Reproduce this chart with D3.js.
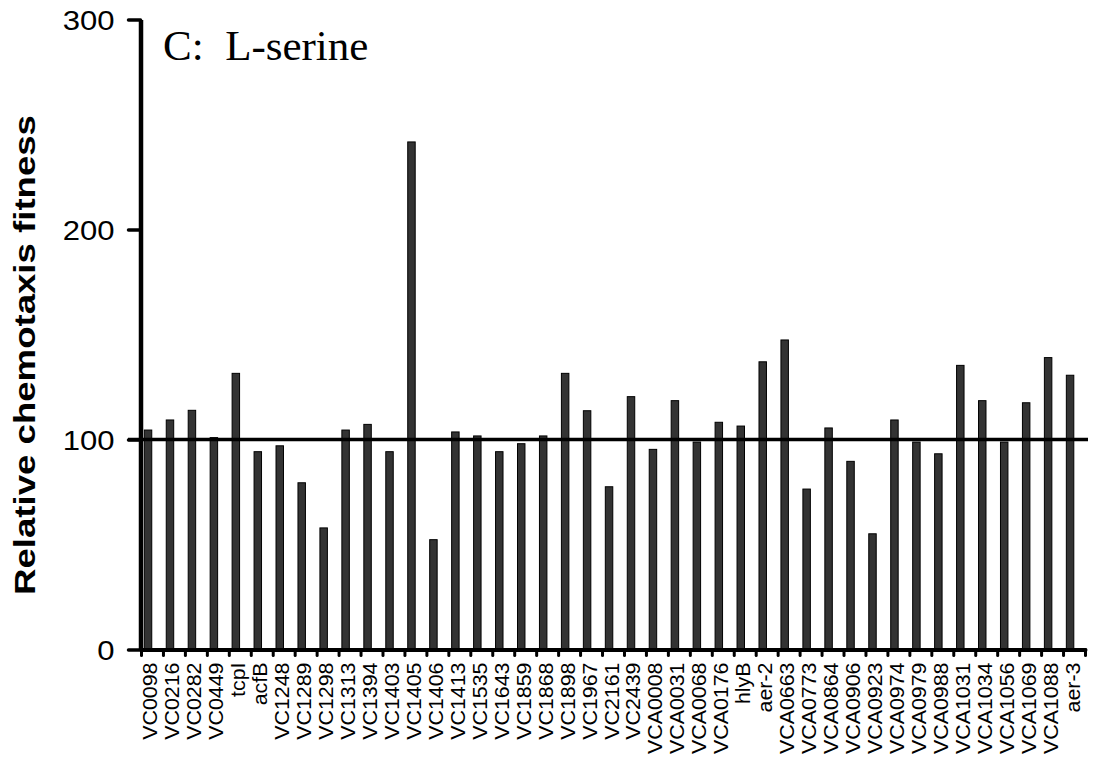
<!DOCTYPE html>
<html><head><meta charset="utf-8">
<script src="https://cdn.jsdelivr.net/npm/d3@7"></script>
<style>body{margin:0;background:#fff}svg{display:block}</style>
</head><body>
<svg id="chart" width="1095" height="761"></svg>
<script>
const categories = ["VC0098","VC0216","VC0282","VC0449","tcpI","acfB","VC1248","VC1289","VC1298","VC1313","VC1394","VC1403","VC1405","VC1406","VC1413","VC1535","VC1643","VC1859","VC1868","VC1898","VC1967","VC2161","VC2439","VCA0008","VCA0031","VCA0068","VCA0176","hlyB","aer-2","VCA0663","VCA0773","VCA0864","VCA0906","VCA0923","VCA0974","VCA0979","VCA0988","VCA1031","VCA1034","VCA1056","VCA1069","VCA1088","aer-3"];
const values = [104.5,109.3,113.9,100.9,131.5,94.2,97,79.4,57.9,104.5,107.2,94.2,241.7,52.3,103.6,101.7,94.2,98,101.7,131.5,113.7,77.5,120.4,95.3,118.5,98.8,108.2,106.4,137,147.4,76.4,105.5,89.6,55.1,109.3,98.8,93.2,135.3,118.5,98.8,117.5,139,130.6];
const yTicks = [0,100,200,300];
const referenceValue = 100;
const titleText = "C:\u00a0 L-serine";
const yTitle = "Relative chemotaxis fitness";

const svg = d3.select("#chart");
const x0 = 141, x1 = 1085, yTop = 19.5, yBot = 649.5;
const x = d3.scaleBand().domain(categories).range([x0, x1]).padding(0);
const xb = d3.scaleLinear().domain([0, categories.length]).range([x0, x1]);
const y = d3.scaleLinear().domain([0, 300]).range([yBot, yTop]);
const bw = x.bandwidth();

// bars
svg.append("g").selectAll("rect").data(categories).join("rect")
  .attr("x", d => x(d) + bw*0.15)
  .attr("width", bw*0.34)
  .attr("y", (d,i) => y(values[i]))
  .attr("height", (d,i) => y(0) - y(values[i]))
  .attr("fill", "#333")
  .attr("stroke", "#000")
  .attr("stroke-width", 1);

// reference line
svg.append("line")
  .attr("x1", 128).attr("x2", 1088)
  .attr("y1", y(referenceValue)).attr("y2", y(referenceValue))
  .attr("stroke", "#000").attr("stroke-width", 3.5);

// x axis tick marks at category boundaries
const gxt = svg.append("g").attr("transform", `translate(0,${yBot})`)
  .call(d3.axisBottom(xb).tickValues(d3.range(categories.length+1)).tickSize(6).tickSizeOuter(0).tickFormat(""));
gxt.select(".domain").attr("stroke-width", 4).attr("stroke-linecap","round");
gxt.selectAll(".tick line").attr("stroke-width", 3).attr("stroke-linecap","round");

// x axis labels
const gx = svg.append("g").attr("transform", `translate(0,${yBot})`)
  .call(d3.axisBottom(x).tickSize(0).tickSizeOuter(0));
gx.select(".domain").remove();
gx.selectAll(".tick text")
  .attr("x", 0).attr("y", 0).attr("dy", "0.35em")
  .attr("text-anchor", "end")
  .attr("transform", "translate(-1.5,13) rotate(-90) scale(1.07,1)")
  .attr("font-family", "'Liberation Sans', Arial, sans-serif")
  .attr("font-size", 20)
  .attr("fill", "#000");

// y axis
const gy = svg.append("g").attr("transform", `translate(${x0 - 0.5},0)`)
  .call(d3.axisLeft(y).tickValues(yTicks).tickSize(12).tickSizeOuter(0));
gy.select(".domain").attr("stroke-width", 4.5);
gy.selectAll(".tick line").attr("stroke-width", 3.5).attr("stroke-linecap","round");
gy.selectAll(".tick text")
  .attr("x", 0).attr("dy", "0.36em")
  .attr("transform", "translate(-26,0) scale(1.15,1)")
  .attr("font-family", "'Liberation Sans', Arial, sans-serif")
  .attr("font-size", 27)
  .attr("fill", "#000");

// y title
svg.append("text")
  .attr("transform", "translate(35,355) rotate(-90) scale(1.22,1)")
  .attr("text-anchor", "middle")
  .attr("font-family", "'Liberation Sans', Arial, sans-serif")
  .attr("font-weight", "bold")
  .attr("font-size", 30)
  .text(yTitle);

// panel title
svg.append("text")
  .attr("x", 163).attr("y", 60)
  .attr("font-family", "'Liberation Serif', 'Times New Roman', serif")
  .attr("font-size", 43)
  .text(titleText);
</script>
</body></html>
